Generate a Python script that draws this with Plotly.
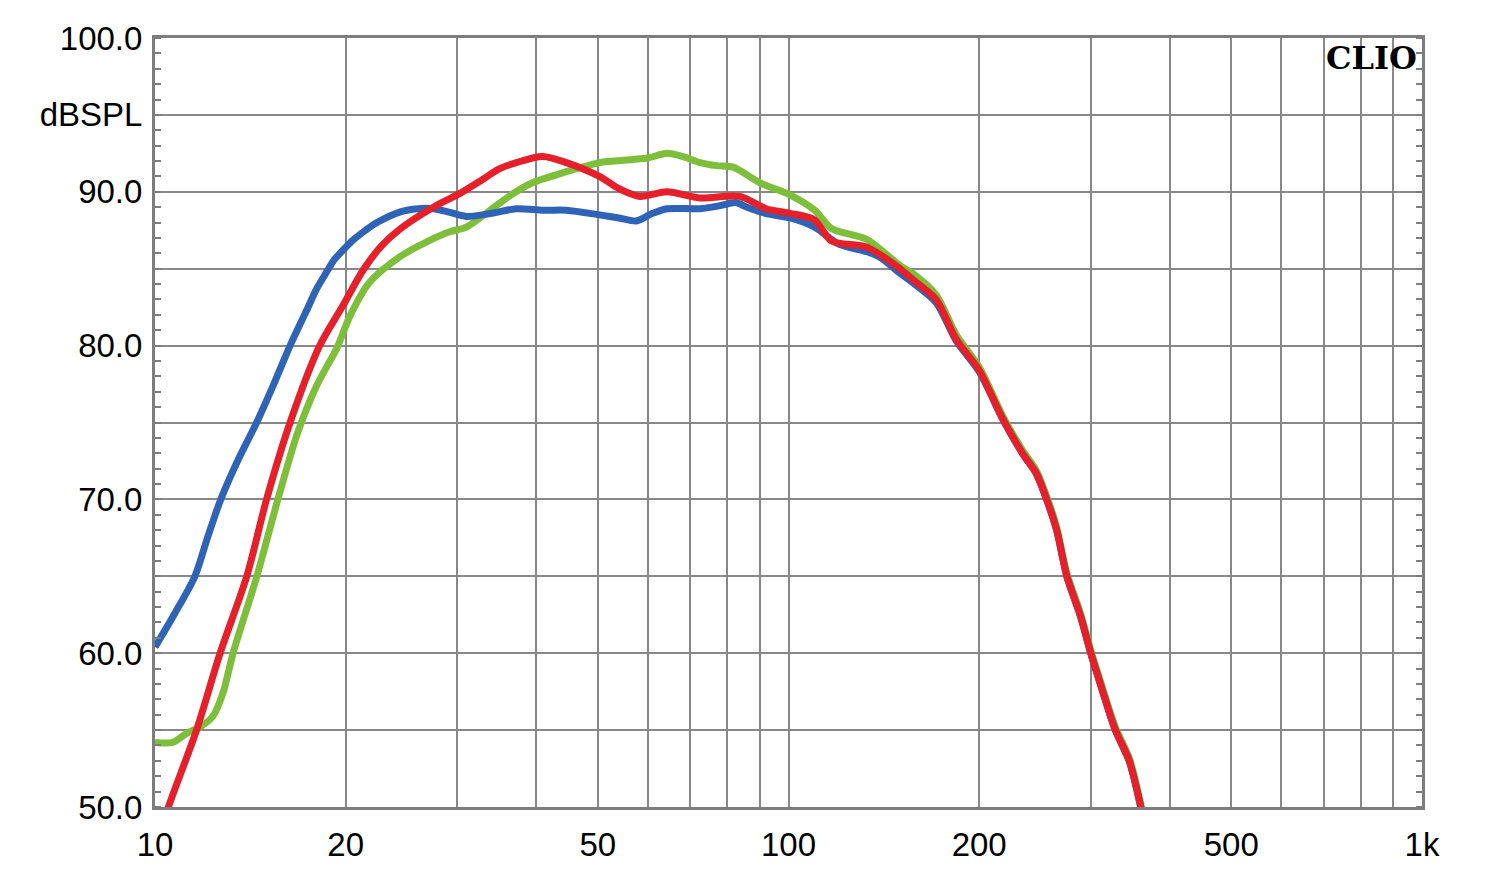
import plotly.graph_objects as go

# ---- data (frequency in Hz, level in dB SPL) ----
blue_f = [10, 10.75, 11.56, 12.1, 12.7, 13.5, 14.47, 15.4, 16.34, 17.4, 18.0, 18.67, 19.2, 19.8, 20.6, 21.5, 22.4,
          24.4, 26.0, 27.5, 29.0, 31.0, 34.0, 37.2, 41.0, 44.6, 50.3, 54.0, 57.5, 61.0, 64.3, 72.5, 78.0,
          82.5, 86.0, 92.0, 100.5, 106, 111, 120, 133, 140, 150, 157, 171, 184, 200, 218, 234, 246, 255,
          265, 275, 289, 300, 309, 328, 345, 358, 364]
blue_db = [60.4, 62.6, 65.0, 67.5, 70.0, 72.5, 75.0, 77.5, 80.0, 82.4, 83.7, 84.8, 85.6, 86.2, 86.9, 87.5, 88.0,
           88.7, 88.9, 88.9, 88.7, 88.4, 88.6, 88.9, 88.8, 88.8, 88.5, 88.3, 88.1, 88.6, 88.9, 88.9, 89.1,
           89.3, 89.0, 88.6, 88.3, 88.0, 87.6, 86.6, 86.1, 85.7, 84.7, 84.1, 82.8, 80.3, 78.3, 75.2, 73.0, 71.7, 70.1,
           68.0, 65.0, 62.4, 60.0, 58.3, 55.0, 53.0, 50.4, 49.0]

red_f = [10.25, 10.5, 11.63, 12.67, 13.96, 15.0, 16.34, 18.2, 19.8, 21.3, 22.8, 24.4, 27.5,
         30.3, 32.9, 35.0, 37.2, 40.9, 44.6, 50.3, 54.0, 58.2, 64.3, 72.5, 83.7, 92.2, 100.5, 109.7, 117, 133,
         150, 157, 171, 184, 200, 218, 234, 246, 255, 265, 275, 289, 300, 309, 328, 345, 358, 364]
red_db = [48.6, 50.0, 55.0, 60.0, 65.0, 70.0, 75.0, 80.0, 82.6, 84.9, 86.5, 87.6, 89.0,
          89.9, 90.8, 91.5, 91.9, 92.3, 91.9, 91.0, 90.2, 89.7, 90.0, 89.6, 89.7, 88.9, 88.6, 88.2, 86.8, 86.4,
          85.0, 84.3, 83.0, 80.4, 78.4, 75.2, 73.0, 71.7, 70.1, 68.0, 65.0, 62.4, 60.0, 58.3, 55.0, 53.0, 50.4, 49.0]

green_f = [10, 10.67, 11.23, 11.78, 12.34, 12.8, 13.28, 14.48, 15.63, 16.75, 18.0, 19.4, 20.3, 21.8,
           24.4, 27.0, 29.2, 31.0, 33.8, 36.5, 39.5, 43.0, 46.3, 50.3, 56.8, 60.0, 64.3, 68.0, 72.5, 77.0,
           81.8, 90.0, 100.5, 110, 117, 133, 150, 157, 171, 184, 200, 218, 234, 246, 255, 265, 275, 289,
           300, 309, 328, 345, 358, 364]
green_db = [54.2, 54.2, 54.8, 55.2, 55.9, 57.4, 60.0, 65.0, 70.0, 74.2, 77.4, 79.9, 81.9, 84.1,
            85.8, 86.8, 87.4, 87.7, 88.8, 89.8, 90.6, 91.1, 91.5, 91.9, 92.1, 92.2, 92.5, 92.3, 91.9, 91.7,
            91.6, 90.6, 89.8, 88.8, 87.6, 86.9, 85.2, 84.7, 83.3, 80.7, 78.6, 75.4, 73.2, 71.9, 70.3, 68.2,
            65.2, 62.6, 60.2, 58.5, 55.2, 53.2, 50.6, 49.2]

x_tickvals = [10, 20, 30, 40, 50, 60, 70, 80, 90, 100, 200, 300, 400, 500, 600, 700, 800, 900, 1000]
x_ticktext = ["10", "20", "", "", "50", "", "", "", "", "100", "200", "", "", "500", "", "", "", "", "1k"]
y_tickvals = [50, 55, 60, 65, 70, 75, 80, 85, 90, 95, 100]
y_ticktext = ["50.0", "", "60.0", "", "70.0", "", "80.0", "", "90.0", "dBSPL", "100.0"]

GRID = "#888888"
FRAME = "#7d7d7d"

fig = go.Figure()
for f, d, c in [(green_f, green_db, "#7dbf3b"), (blue_f, blue_db, "#2f63b5"), (red_f, red_db, "#e6202a")]:
    fig.add_trace(go.Scatter(x=f, y=d, mode="lines", line=dict(color=c, width=7, shape="spline", smoothing=0.8),
                             hoverinfo="skip", showlegend=False))

fig.update_layout(
    width=1500, height=879,
    margin=dict(l=155, r=78, t=38, b=72),
    paper_bgcolor="white", plot_bgcolor="white",
    font=dict(family="Liberation Sans, Arial, sans-serif", size=33, color="black"),
    xaxis=dict(type="log", range=[1, 3], tickvals=x_tickvals, ticktext=x_ticktext,
               showgrid=True, gridcolor=GRID, gridwidth=1.5, showline=True, linecolor=FRAME, linewidth=3,
               mirror=True, ticks="", zeroline=False, ticklabelstandoff=6),
    yaxis=dict(range=[50, 100], tickvals=y_tickvals, ticktext=y_ticktext,
               showgrid=True, gridcolor=GRID, gridwidth=1.5, showline=True, linecolor=FRAME, linewidth=3,
               mirror="allticks", ticks="", zeroline=False, ticklabelstandoff=3,
               minor=dict(dtick=1, ticks="inside", ticklen=6, tickwidth=1.5, tickcolor=FRAME, showgrid=False)),
    annotations=[dict(text="<b>CLIO</b>", xref="paper", yref="paper", x=1, y=1, xanchor="right", yanchor="top",
                      xshift=-3, yshift=1, showarrow=False,
                      font=dict(family="DejaVu Serif, serif", size=32, color="black"))],
)

fig.write_html("out.html")
